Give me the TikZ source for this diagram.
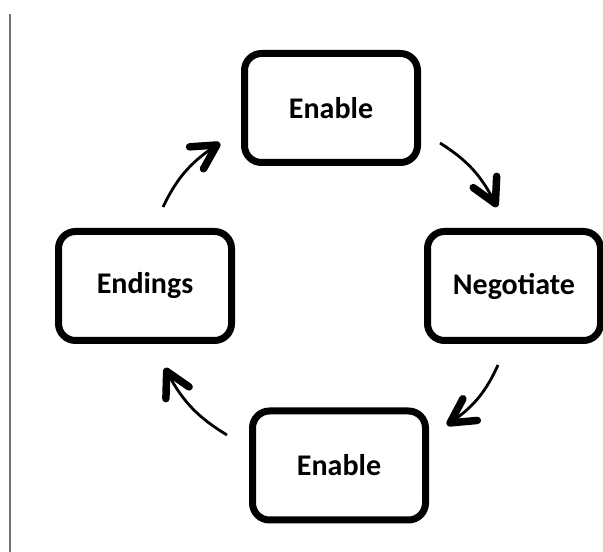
\documentclass[tikz,border=0pt]{standalone}
\usepackage{fontspec}
\setmainfont{Carlito}
\usetikzlibrary{arrows.meta,bending}

\begin{document}
\begin{tikzpicture}[x=1pt,y=1pt,
		stagebox/.style={draw=black,line width=7pt,rounded corners=17pt,
			minimum width=173pt,minimum height=109pt,
			font=\fontsize{30}{35}\selectfont\bfseries},
		cyclearrow/.style={line width=2.8pt,bend left=16,
			-{Straight Barb[length=24pt,width=26pt,line width=7.5pt,round]}}]
				%%%%% START %%%%%
				\def\w{603}
				\def\h{552}
				\def\xmid{331}
				\def\ymid{266}
				
				\useasboundingbox (0,0) rectangle (\w,\h);
				\draw[line width=1.6pt,color=black!55] (10,0) -- (10,538);
				
				\node[stagebox] (enabletop) at (\xmid,444) {Enable};
				\node[stagebox] (endings) at (145,\ymid) {Endings};
				\node[stagebox] (negotiate) at (514,\ymid) {Negotiate};
				\node[stagebox] (enablebot) at (339,86.5) {Enable};
				
				% arrow ends
				\coordinate (aone) at (163,345);
				\coordinate (bone) at (220,409);
				\coordinate (atwo) at (440,409);
				\coordinate (btwo) at (497,345);
				\coordinate (athree) at (498,187);
				\coordinate (bthree) at (447,127);
				\coordinate (afour) at (227,117);
				\coordinate (bfour) at (165,184);
				
				\draw[cyclearrow] (aone) to (bone);
				\draw[cyclearrow] (atwo) to (btwo);
				\draw[cyclearrow] (athree) to (bthree);
				\draw[cyclearrow] (afour) to (bfour);
				%%%%% END %%%%%
\end{tikzpicture}
\end{document}
